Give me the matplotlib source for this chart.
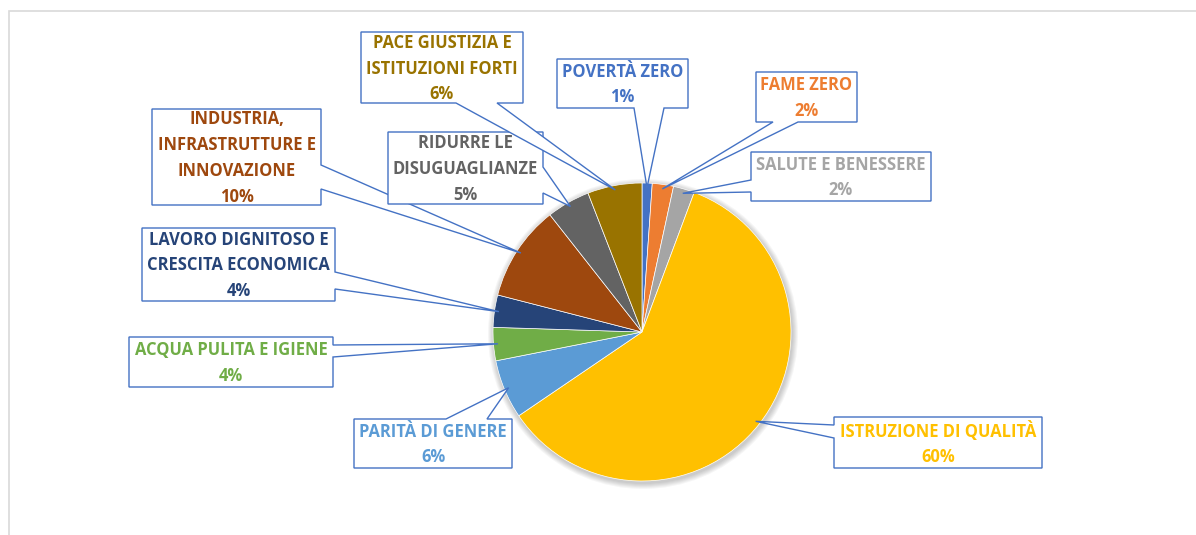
import math
import matplotlib.pyplot as plt
from matplotlib.patches import Polygon, Circle, Rectangle

# data: share of projects by goal (percent)
names = [
    "POVERTÀ ZERO",
    "FAME ZERO",
    "SALUTE E BENESSERE",
    "ISTRUZIONE DI QUALITÀ",
    "PARITÀ DI GENERE",
    "ACQUA PULITA E IGIENE",
    "LAVORO DIGNITOSO E\nCRESCITA ECONOMICA",
    "INDUSTRIA,\nINFRASTRUTTURE E\nINNOVAZIONE",
    "RIDURRE LE\nDISUGUAGLIANZE",
    "PACE GIUSTIZIA E\nISTITUZIONI FORTI",
]
values = [1.1, 2.3, 2.3, 59.8, 6.4, 3.6, 3.5, 10.4, 4.7, 5.9]
colors = ["#4472C4", "#ED7D31", "#A5A5A5", "#FFC000", "#5B9BD5",
          "#70AD47", "#264478", "#9E480E", "#636363", "#997300"]

W, H = 1196, 535
fig = plt.figure(figsize=(W / 100, H / 100), dpi=100)
ax = fig.add_axes([0, 0, 1, 1])


def fy(y):
    # pixel row (top down) -> data y
    return H - y


cx, cy, r = 642, fy(332), 149

# soft shadow behind the pie
for k in range(6):
    ax.add_patch(Circle((cx + 1, cy - 2), r + 1 + k, facecolor="#000000",
                        alpha=0.035, edgecolor="none", zorder=1))

wedges, _ = ax.pie(values, colors=colors, startangle=90, counterclock=False,
                   center=(cx, cy), radius=r, frame=True,
                   wedgeprops=dict(edgecolor="#FFFFFF", linewidth=0.5, zorder=2))
ax.set_xlim(0, W)
ax.set_ylim(0, H)
ax.set_aspect("equal")
ax.axis("off")

# chart frame
ax.add_patch(Rectangle((9, -5), W, fy(11) + 5, fill=False,
                       edgecolor="#D9D9D9", linewidth=1.2))

# label boxes: (x0, y0, x1, y1) in pixels, side of the pointer, pointer base
boxes = [
    ((557, 59, 688, 108), "bottom", (634, 664)),
    ((756, 72, 857, 122), "bottom", (773, 798)),
    ((751, 152, 931, 201), "left", (180, 192)),
    ((834, 417, 1042, 468), "left", (425, 438)),
    ((354, 419, 512, 468), "top", (446, 487)),
    ((129, 337, 333, 387), "right", (345, 357)),
    ((142, 228, 335, 301), "right", (272, 289)),
    ((152, 109, 321, 205), "right", (165, 189)),
    ((388, 132, 543, 204), "right", (167, 193)),
    ((361, 32, 523, 103), "bottom", (456, 497)),
]

edge_col = "#4472C4"
for w, name, val, col, (box, side, base) in zip(wedges, names, values, colors, boxes):
    mid = math.radians((w.theta1 + w.theta2) / 2)
    tip = (cx + 0.97 * r * math.cos(mid), cy + 0.97 * r * math.sin(mid))
    x0, y0, x1, y1 = box
    b1, b2 = base
    tl, tr, br, bl = (x0, fy(y0)), (x1, fy(y0)), (x1, fy(y1)), (x0, fy(y1))
    if side == "top":
        pts = [tl, (b1, fy(y0)), tip, (b2, fy(y0)), tr, br, bl]
    elif side == "right":
        pts = [tl, tr, (x1, fy(b1)), tip, (x1, fy(b2)), br, bl]
    elif side == "bottom":
        pts = [tl, tr, br, (b2, fy(y1)), tip, (b1, fy(y1)), bl]
    else:
        pts = [tl, tr, br, bl, (x0, fy(b2)), tip, (x0, fy(b1))]
    ax.add_patch(Polygon(pts, closed=True, facecolor="white",
                         edgecolor=edge_col, linewidth=1.0, zorder=3))
    ax.text((x0 + x1) / 2, fy((y0 + y1) / 2 + 1), f"{name}\n{round(val)}%",
            ha="center", va="center", ma="center", color=col,
            fontsize=11.9, fontweight="bold", family="Open Sans",
            linespacing=1.55, zorder=4)

fig.savefig("out.png", dpi=100)
